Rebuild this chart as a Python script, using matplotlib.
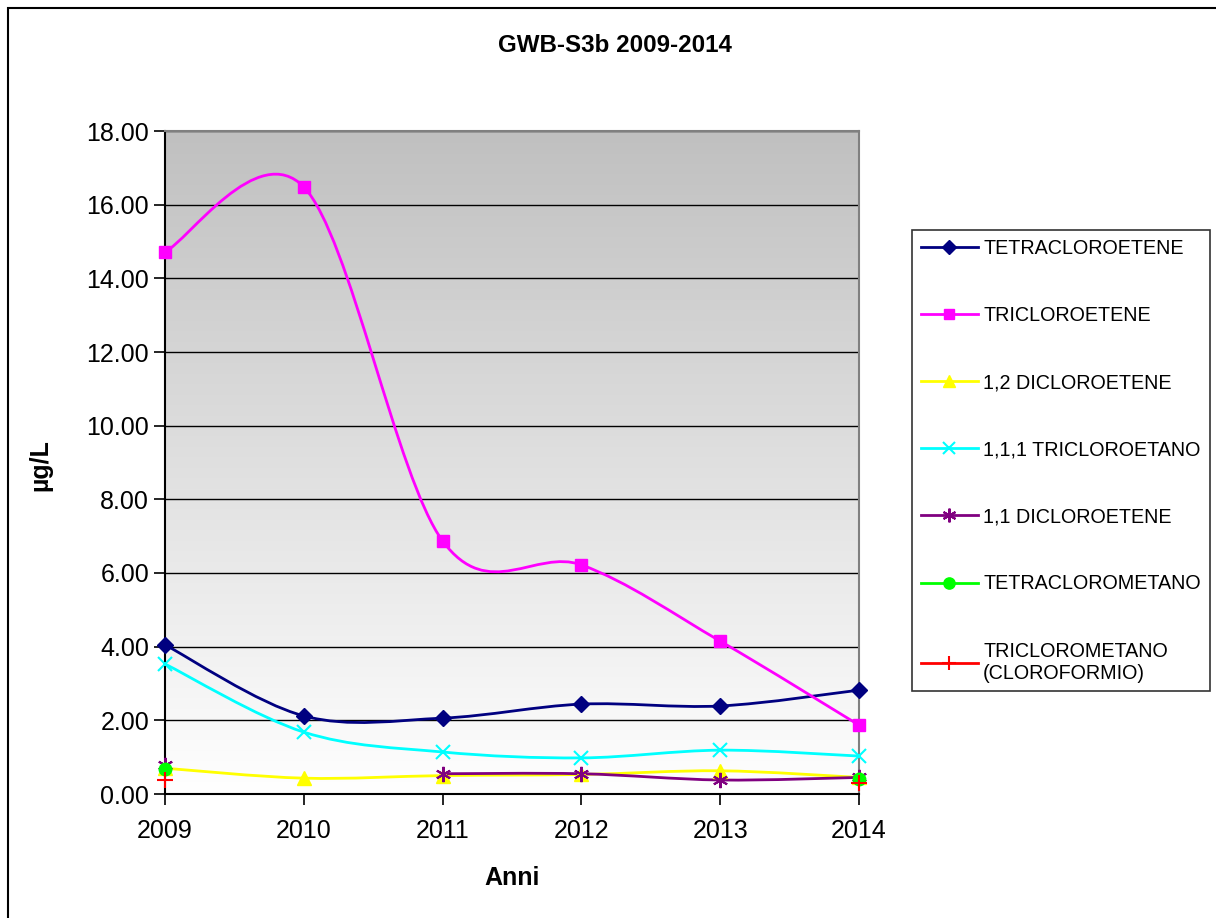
import numpy as np
import matplotlib
matplotlib.use("Agg")
import matplotlib.pyplot as plt
from matplotlib.path import Path
from matplotlib.patches import PathPatch, Rectangle
from matplotlib.lines import Line2D

plt.rcParams['font.family'] = ['Liberation Sans', 'DejaVu Sans']

anni = [2009, 2010, 2011, 2012, 2013, 2014]
nan = np.nan

tetracloroetene = [4.05, 2.12, 2.06, 2.44, 2.39, 2.82]
tricloroetene = [14.72, 16.48, 6.87, 6.22, 4.15, 1.87]
dicloroetene_12 = [0.70, 0.43, 0.50, 0.53, 0.63, 0.45]
tricloroetano_111 = [3.53, 1.68, 1.14, 0.98, 1.19, 1.03]
dicloroetene_11 = [0.78, nan, 0.55, 0.55, 0.38, 0.45]
tetraclorometano = [0.68, nan, nan, nan, nan, 0.42]
triclorometano = [0.38, nan, nan, nan, nan, 0.30]

serie = [
    ("TETRACLOROETENE", tetracloroetene, "#000080", "D", 8, None),
    ("TRICLOROETENE", tricloroetene, "#ff00ff", "s", 8, None),
    ("1,2 DICLOROETENE", dicloroetene_12, "#ffff00", "^", 10, None),
    ("1,1,1 TRICLOROETANO", tricloroetano_111, "#00ffff", "x", 10, 1.5),
    ("1,1 DICLOROETENE", dicloroetene_11, "#800080", (6, 2, 0), 11, 1.5),
    ("TETRACLOROMETANO", tetraclorometano, "#00ff00", "o", 9, None),
    ("TRICLOROMETANO\n(CLOROFORMIO)", triclorometano, "#ff0000", "+", 11, 1.5),
]


def smooth_path(xs, ys):
    # cubic bezier through consecutive points (Excel-style smoothed line)
    verts = [(xs[0], ys[0])]
    codes = [Path.MOVETO]
    n = len(xs)
    for i in range(n - 1):
        p0 = np.array([xs[max(i - 1, 0)], ys[max(i - 1, 0)]])
        p1 = np.array([xs[i], ys[i]])
        p2 = np.array([xs[i + 1], ys[i + 1]])
        p3 = np.array([xs[min(i + 2, n - 1)], ys[min(i + 2, n - 1)]])
        c1 = p1 + (p2 - p0) / 6
        c2 = p2 - (p3 - p1) / 6
        verts += [tuple(c1), tuple(c2), tuple(p2)]
        codes += [Path.CURVE4] * 3
    return Path(verts, codes)


fig = plt.figure(figsize=(12.16, 9.18), dpi=100)
ax = fig.add_axes([165 / 1216, 1 - 794 / 918, 694 / 1216, 663 / 918])

# grey-to-white gradient behind the plot area
grad = np.linspace(0, 1, 256).reshape(-1, 1)
ax.imshow(grad, cmap=matplotlib.colors.LinearSegmentedColormap.from_list(
    "g", ["#ffffff", "#c0c0c0"]), aspect="auto", extent=[0, 1, 0, 1],
    transform=ax.transAxes, origin="lower", zorder=0)

for label, vals, col, mk, ms, mew in serie:
    vals = np.array(vals, dtype=float)
    x = np.array(anni, dtype=float)
    ok = ~np.isnan(vals)
    # split into runs of consecutive valid values
    runs, cur = [], []
    for xi, yi, good in zip(x, vals, ok):
        if good:
            cur.append((xi, yi))
        else:
            if cur:
                runs.append(cur)
            cur = []
    if cur:
        runs.append(cur)
    for r in runs:
        if len(r) > 1:
            rx, ry = zip(*r)
            ax.add_patch(PathPatch(smooth_path(rx, ry), facecolor="none",
                                   edgecolor=col, lw=2, zorder=3, clip_on=False))
    kw = dict(markeredgewidth=mew) if mew else {}
    ax.plot(x[ok], vals[ok], linestyle="none", marker=mk, color=col,
            markersize=ms, zorder=4, clip_on=False, **kw)

ax.set_xlim(2009, 2014)
ax.set_ylim(0, 18)
ax.set_xticks(anni)
ax.set_yticks(np.arange(0, 19, 2))
ax.set_yticklabels(["%.2f" % v for v in np.arange(0, 19, 2)])
ax.tick_params(axis="both", labelsize=18, direction="out", length=8, width=1.2, color="black")
ax.tick_params(axis="x", pad=10)
ax.grid(axis="y", color="black", lw=1)
ax.set_axisbelow(True)
for s in ["top", "right"]:
    ax.spines[s].set_color("#808080")
    ax.spines[s].set_linewidth(1.5)
for s in ["left", "bottom"]:
    ax.spines[s].set_color("black")
    ax.spines[s].set_linewidth(1.5)

fig.text(615 / 1216, 1 - 45 / 918, "GWB-S3b 2009-2014", ha="center", va="center",
         fontsize=17.4, fontweight="bold")
fig.text(512 / 1216, 1 - 878 / 918, "Anni", ha="center", va="center",
         fontsize=18, fontweight="bold")
fig.text(40 / 1216, 1 - 465 / 918, "µg/L", ha="center", va="center",
         fontsize=18, fontweight="bold", rotation=90)

handles = []
for label, vals, col, mk, ms, mew in serie:
    kw = dict(markeredgewidth=mew) if mew else {}
    handles.append(Line2D([], [], color=col, lw=2, marker=mk, markersize=ms * 0.9, **kw))
leg = fig.legend(handles, [s[0] for s in serie], loc="upper left",
                 bbox_to_anchor=(912 / 1216, 1 - 230 / 918), fontsize=14.2,
                 frameon=True, fancybox=False, edgecolor="black",
                 labelspacing=2.44, handlelength=2.9, handletextpad=0.25,
                 borderpad=0.45, borderaxespad=0)
leg.get_frame().set_linewidth(1.2)

# outer chart border (right and bottom edges fall outside the image)
fig.patches.append(Rectangle((8 / 1216, -0.1), 1.2, 1.1 - 8 / 918,
                             transform=fig.transFigure, fill=False,
                             edgecolor="black", lw=1.5))

fig.savefig("out.png", dpi=100)
